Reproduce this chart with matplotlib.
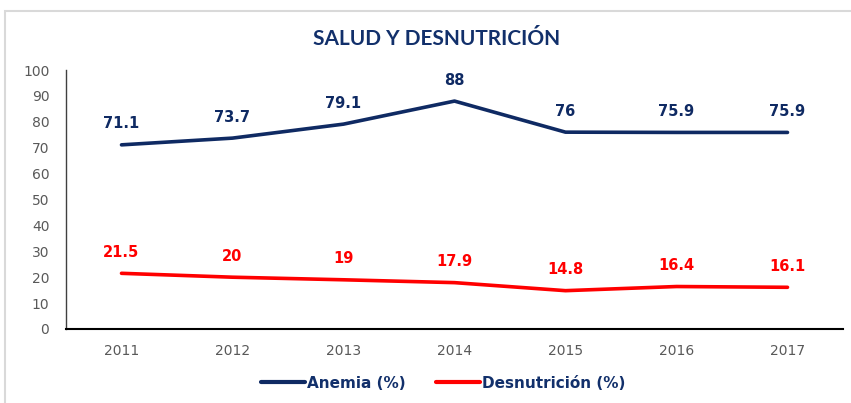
import matplotlib
matplotlib.use("Agg")
import matplotlib.pyplot as plt
from matplotlib.patches import Rectangle

years = ["2011", "2012", "2013", "2014", "2015", "2016", "2017"]
anemia = [71.1, 73.7, 79.1, 88, 76, 75.9, 75.9]
desnutricion = [21.5, 20, 19, 17.9, 14.8, 16.4, 16.1]
anemia_labels = ["71.1", "73.7", "79.1", "88", "76", "75.9", "75.9"]
desn_labels = ["21.5", "20", "19", "17.9", "14.8", "16.4", "16.1"]
yticks = [0, 10, 20, 30, 40, 50, 60, 70, 80, 90, 100]

NAVY = "#0F2A63"
RED = "#FF0000"
TITLE_C = "#12306B"

W, H = 851, 403
fig = plt.figure(figsize=(W / 100, H / 100), dpi=100)

# outer frame (light gray)
fig.add_artist(Rectangle((5 / W, -0.05), 1.2, (H - 11) / H + 0.05, transform=fig.transFigure,
                         fill=False, edgecolor="#D9D9D9", linewidth=1.5))

ax = fig.add_axes([66 / W, (H - 329) / H, (843 - 66) / W, (329 - 70) / H])
x = list(range(len(years)))
ax.plot(x, anemia, color=NAVY, linewidth=2.6, solid_capstyle="round", label="Anemia (%)")
ax.plot(x, desnutricion, color=RED, linewidth=2.6, solid_capstyle="round", label="Desnutrición (%)")

for xi, v, t in zip(x, anemia, anemia_labels):
    ax.annotate(t, (xi, v), xytext=(0, 21), textcoords="offset pixels", ha="center", va="center",
                fontsize=10.5, fontweight="bold", color=NAVY, family="DejaVu Sans")
for xi, v, t in zip(x, desnutricion, desn_labels):
    ax.annotate(t, (xi, v), xytext=(0, 21), textcoords="offset pixels", ha="center", va="center",
                fontsize=10.5, fontweight="bold", color=RED, family="DejaVu Sans")

ax.set_xlim(-0.5, len(years) - 0.5)
ax.set_ylim(0, 100)
ax.set_yticks(yticks)
ax.set_xticks(x)
ax.set_xticklabels(years)
ax.tick_params(axis="both", length=0, labelsize=10, labelcolor="#595959")
ax.tick_params(axis="y", pad=12)
ax.tick_params(axis="x", pad=11)
for lbl in ax.get_xticklabels() + ax.get_yticklabels():
    lbl.set_family("DejaVu Sans")
ax.spines["top"].set_visible(False)
ax.spines["right"].set_visible(False)
ax.spines["left"].set_color("#404040")
ax.spines["left"].set_linewidth(1.0)
ax.spines["bottom"].set_color("#000000")
ax.spines["bottom"].set_linewidth(1.5)

fig.text(437 / W, 1 - 39 / H, "SALUD Y DESNUTRICIÓN", ha="center", va="center",
         fontsize=15, fontweight="bold", color=TITLE_C, family="Lato")

leg = ax.legend(loc="center", bbox_to_anchor=((443 - 66) / (843 - 66), (329 - 383) / (329 - 70)),
                ncol=2, frameon=False,
                handlelength=2.9, handletextpad=0.1, columnspacing=2.0,
                prop={"family": "DejaVu Sans", "weight": "bold", "size": 11})
for t in leg.get_texts():
    t.set_color(TITLE_C)
for ln in leg.get_lines():
    ln.set_linewidth(3)

fig.savefig("out.png", dpi=100)
